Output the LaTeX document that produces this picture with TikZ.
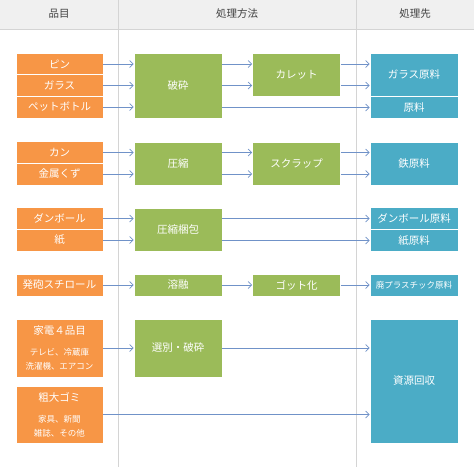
\documentclass[tikz,border=0pt]{standalone}
\usepackage{fontspec}
\setmainfont{Noto Sans CJK JP}
\usetikzlibrary{arrows.meta}
\definecolor{itemorange}{HTML}{F79646}
\definecolor{procgreen}{HTML}{9BBB59}
\definecolor{destblue}{HTML}{4BACC6}
\definecolor{flowblue}{HTML}{7092C8}
\definecolor{headgray}{HTML}{F0F0F0}
\definecolor{rulegray}{HTML}{D4D4D4}
\definecolor{headtext}{HTML}{404040}
\tikzset{
  box/.style={draw=white, line width=0.6pt, text=white, inner sep=0pt,
    minimum height=22pt, align=center, font=\fontsize{10.5}{14}\selectfont},
  item/.style={box, fill=itemorange, minimum width=87pt},
  proc/.style={box, fill=procgreen, minimum width=88pt},
  dest/.style={box, fill=destblue, minimum width=88pt},
  head/.style={text=headtext, inner sep=0pt, font=\fontsize{10.5}{12}\selectfont},
  flow/.style={draw=flowblue, line width=0.7pt, -{Straight Barb[length=3.5pt,width=7pt]}},
  small/.style={font=\fontsize{8.5}{14}\selectfont}
}
\begin{document}
\begin{tikzpicture}[x=1pt,y=-1pt]
    \useasboundingbox [fill=white] (0,0) rectangle (474,467);
    % header and column rules
    \fill [headgray] (0,0) rectangle (474,29);
    \draw [rulegray] (0,29) -- (474,29);
    \draw [rulegray] (118,0) -- (118,467);
    \draw [rulegray] (356,0) -- (356,467);
    \node [head] (hitem) at (59,14) {品目};
    \node [head] (hproc) at (237,14) {処理方法};
    \node [head] (hdest) at (415,14) {処理先};
    % items
    \node [item] (pin) at (59.5,64) {ピン};
    \node [item] (glass) at (59.5,85.5) {ガラス};
    \node [item] (pet) at (59.5,107) {ペットボトル};
    \node [item] (can) at (59.5,152.5) {カン};
    \node [item] (metal) at (59.5,174) {金属くず};
    \node [item] (cardboard) at (59.5,218.5) {ダンボール};
    \node [item] (paper) at (59.5,240) {紙};
    \node [item] (foam) at (59.5,285) {発砲スチロール};
    \node [item, minimum height=58pt] (kaden) at (59.5,348)
      {家電４品目\\[7pt]{\fontsize{8.5}{14}\selectfont テレビ、冷蔵庫}\\{\fontsize{8.5}{14}\selectfont 洗濯機、エアコン}};
    \node [item, minimum height=57pt] (sodai) at (59.5,414.5)
      {粗大ゴミ\\[7pt]{\fontsize{8.5}{14}\selectfont 家具、新聞}\\{\fontsize{8.5}{14}\selectfont 雑誌、その他}};
    % processing
    \node [proc, minimum height=65pt] (crush) at (178,85.5) {破砕};
    \node [proc, minimum height=43pt] (compress) at (178,163.5) {圧縮};
    \node [proc, minimum height=43pt] (bale) at (178,229.5) {圧縮梱包};
    \node [proc] (melt) at (178,285) {溶融};
    \node [proc, minimum height=58pt] (sort) at (178,348) {選別・破砕};
    \node [proc, minimum height=43pt] (cullet) at (296.5,74.5) {カレット};
    \node [proc, minimum height=43pt] (scrap) at (296.5,163.5) {スクラップ};
    \node [proc] (ingot) at (296.5,285) {ゴット化};
    % destinations
    \node [dest, minimum height=43pt] (glassraw) at (414,74.5) {ガラス原料};
    \node [dest] (raw) at (414,107.5) {原料};
    \node [dest, minimum height=43pt] (ironraw) at (414,163.5) {鉄原料};
    \node [dest] (cbraw) at (414,218.5) {ダンボール原料};
    \node [dest] (paperraw) at (414,240.5) {紙原料};
    \node [dest, small] (plasraw) at (414,285) {廃プラスチック原料};
    \node [dest, minimum height=124pt] (resource) at (414,381) {資源回収};
    % flows
    \foreach \a/\b in {pin/crush, glass/crush, pet/crush, can/compress, metal/compress,
                       cardboard/bale, paper/bale, foam/melt, kaden/sort}
      \draw [flow] (\a.east) -- (\a.east -| \b.west);
    \foreach \r in {pin, glass} {
      \draw [flow] (crush.east |- \r) -- (cullet.west |- \r);
      \draw [flow] (cullet.east |- \r) -- (glassraw.west |- \r);
    }
    \foreach \r in {can, metal} {
      \draw [flow] (compress.east |- \r) -- (scrap.west |- \r);
      \draw [flow] (scrap.east |- \r) -- (ironraw.west |- \r);
    }
    \draw [flow] (crush.east |- raw) -- (raw.west);
    \draw [flow] (bale.east |- cbraw) -- (cbraw.west);
    \draw [flow] (bale.east |- paperraw) -- (paperraw.west);
    \draw [flow] (melt) -- (ingot);
    \draw [flow] (ingot) -- (plasraw);
    \draw [flow] (sort.east) -- (sort.east -| resource.west);
    \draw [flow] (sodai.east) -- (sodai.east -| resource.west);
\end{tikzpicture}
\end{document}
